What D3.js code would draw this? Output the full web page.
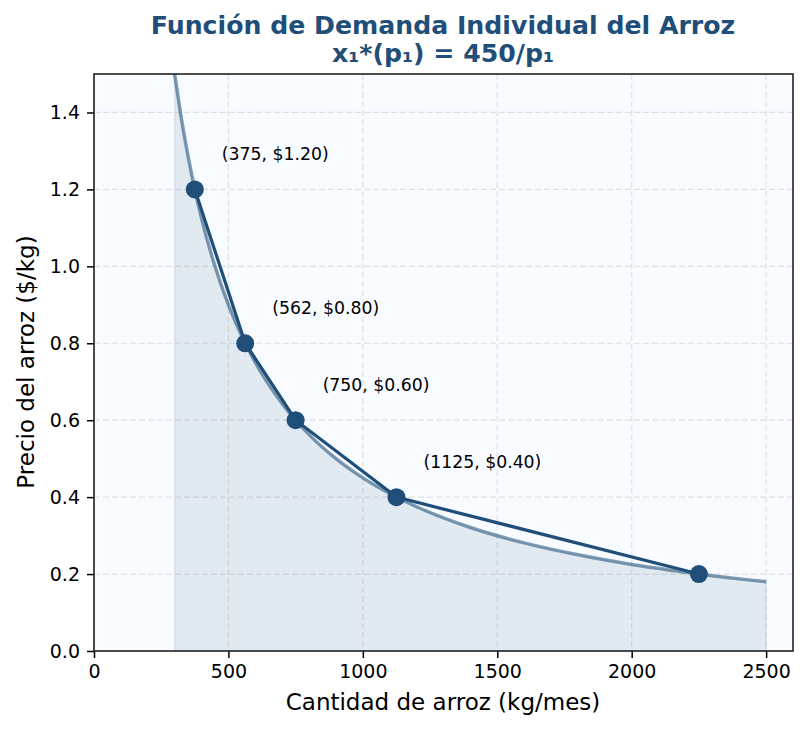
<!DOCTYPE html>
<html><head><meta charset="utf-8">
<script src="https://cdn.jsdelivr.net/npm/d3@7"></script>
<style>body{margin:0;background:#fff;} text{font-family:"DejaVu Sans",sans-serif;}</style>
</head><body>
<svg id="c" width="806" height="732"></svg>
<script>
// Demand curve samples (quantity, price)
const curveQ = [300,320,340,360,380,400,450,500,550,600,700,800,900,1000,1200,1400,1600,1800,2000,2200,2400,2500];
const curveP = [1.5,1.406,1.324,1.25,1.184,1.125,1.0,0.9,0.818,0.75,0.643,0.5625,0.5,0.45,0.375,0.321,0.281,0.25,0.225,0.205,0.1875,0.18];
// Highlighted points
const ptQ = [375,562.5,750,1125,2250];
const ptP = [1.2,0.8,0.6,0.4,0.2];
const ptLabels = ["(375, $1.20)","(562, $0.80)","(750, $0.60)","(1125, $0.40)",""];
const xTicks = [0,500,1000,1500,2000,2500];
const yTicks = [0,0.2,0.4,0.6,0.8,1.0,1.2,1.4];
const title1 = "Función de Demanda Individual del Arroz";
const title2 = "x₁*(p₁) = 450/p₁";
const xLabel = "Cantidad de arroz (kg/mes)";
const yLabel = "Precio del arroz ($/kg)";

const L=94,R=793,T=74,B=651;
const col="#1f4e79";
const svg=d3.select("#c");
const x=d3.scaleLinear().domain([0,2600]).range([L,R]);
const y=d3.scaleLinear().domain([0,1.5]).range([B,T]);

svg.append("rect").attr("x",L).attr("y",T).attr("width",R-L).attr("height",B-T).attr("fill","#f8fbff");

// grid
const g=svg.append("g");
g.selectAll(".gx").data(xTicks).join("line").attr("x1",d=>x(d)).attr("x2",d=>x(d)).attr("y1",T).attr("y2",B)
 .attr("stroke","#b0b0b0").attr("stroke-opacity",0.35).attr("stroke-dasharray","6,3").attr("stroke-width",1.2);
g.selectAll(".gy").data(yTicks).join("line").attr("y1",d=>y(d)).attr("y2",d=>y(d)).attr("x1",L).attr("x2",R)
 .attr("stroke","#b0b0b0").attr("stroke-opacity",0.35).attr("stroke-dasharray","6,3").attr("stroke-width",1.2);

const cdata=curveQ.map((q,i)=>[q,curveP[i]]);
svg.append("clipPath").attr("id","pc").append("rect").attr("x",L).attr("y",T).attr("width",R-L).attr("height",B-T);
const pg=svg.append("g").attr("clip-path","url(#pc)");
pg.append("path").datum(cdata).attr("d",d3.area().x(d=>x(d[0])).y0(y(0)).y1(d=>y(d[1])).curve(d3.curveMonotoneX))
 .attr("fill",col).attr("fill-opacity",0.1).attr("stroke",col).attr("stroke-opacity",0.1).attr("stroke-width",1.5);
pg.append("path").datum(cdata).attr("d",d3.line().x(d=>x(d[0])).y(d=>y(d[1])).curve(d3.curveMonotoneX))
 .attr("fill","none").attr("stroke",col).attr("stroke-opacity",0.55).attr("stroke-width",3.5);

const pdata=ptQ.map((q,i)=>[q,ptP[i],ptLabels[i]]);
pg.append("path").datum(pdata).attr("d",d3.line().x(d=>x(d[0])).y(d=>y(d[1])))
 .attr("fill","none").attr("stroke",col).attr("stroke-width",3.2);
pg.selectAll(".pt").data(pdata).join("circle").attr("cx",d=>x(d[0])).attr("cy",d=>y(d[1])).attr("r",9).attr("fill",col);
svg.selectAll(".lab").data(pdata.filter(d=>d[2])).join("text").attr("x",d=>x(d[0])+27).attr("y",d=>y(d[1])-29)
 .attr("font-size",17.3).attr("fill","#000").text(d=>d[2]);

// axes
const xa=svg.append("g").attr("transform",`translate(0,${B})`).call(d3.axisBottom(x).tickValues(xTicks).tickFormat(d3.format("d")).tickSize(7).tickPadding(7));
const ya=svg.append("g").attr("transform",`translate(${L},0)`).call(d3.axisLeft(y).tickValues(yTicks).tickFormat(d3.format(".1f")).tickSize(7).tickPadding(7));
[xa,ya].forEach(a=>{a.select(".domain").remove();a.selectAll("text").attr("font-size",19).attr("fill","#000").attr("font-family","DejaVu Sans");a.selectAll("line").attr("stroke","#000").attr("stroke-width",1.5);});
svg.append("rect").attr("x",L).attr("y",T).attr("width",R-L).attr("height",B-T).attr("fill","none").attr("stroke","#222").attr("stroke-width",1.6);

svg.append("text").attr("x",443).attr("y",710).attr("text-anchor","middle").attr("font-size",23).text(xLabel);
svg.append("text").attr("transform","translate(34,362) rotate(-90)").attr("text-anchor","middle").attr("font-size",23).text(yLabel);
svg.append("text").attr("x",443).attr("y",34).attr("text-anchor","middle").attr("font-size",25.2).attr("font-weight","bold").attr("fill",col).text(title1);
svg.append("text").attr("x",443).attr("y",62).attr("text-anchor","middle").attr("font-size",25.2).attr("font-weight","bold").attr("fill",col).text(title2);
</script>
</body></html>
